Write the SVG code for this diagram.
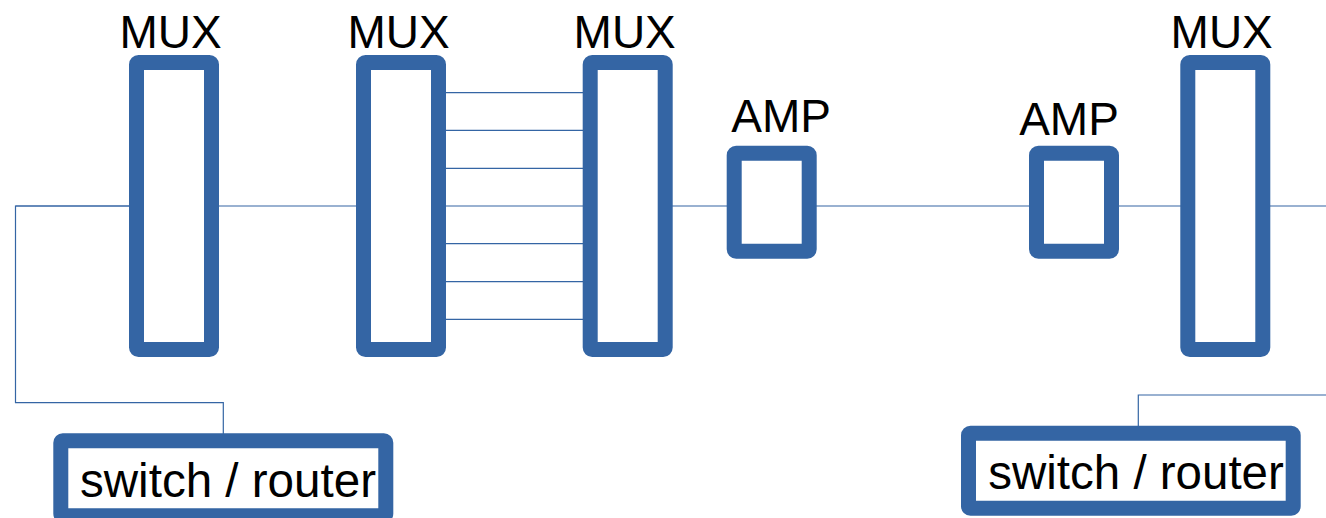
<svg xmlns="http://www.w3.org/2000/svg" width="1326" height="518" viewBox="0 0 1326 518">
<style>
.box{fill:#fff;stroke:#3465a4;stroke-width:15;stroke-linejoin:round}
.ln{fill:none;stroke:#3465a4;stroke-width:1.2}
.lbl{font-family:"Liberation Sans",Arial,sans-serif;font-size:46px;fill:#000}
.sw{font-family:"Liberation Sans",Arial,sans-serif;font-size:48px;fill:#000}
</style>
<rect width="1326" height="518" fill="#fff"/>
<g id="connectors">
<path class="ln" d="M15.5,206 H136 M212,206 H363 M665,206 H734 M809,206 H1036 M1112,206 H1187 M1263,206 H1326"/>
<path class="ln" d="M439,92.7 H590 M439,130.3 H590 M439,168.3 H590 M439,206 H590 M439,243.7 H590 M439,281.7 H590 M439,319.3 H590"/>
<path class="ln" d="M136,206 H15.5 V402.7 H223.3 V434"/>
<path class="ln" d="M1326,395 H1138.3 V426"/>
</g>
<g id="mux1"><rect class="box" x="136.5" y="62.5" width="75" height="287" rx="2"/><text class="lbl" x="170.5" y="48.3" text-anchor="middle">MUX</text></g>
<g id="mux2"><rect class="box" x="363.5" y="62.5" width="75" height="287" rx="2"/><text class="lbl" x="398.5" y="48.3" text-anchor="middle">MUX</text></g>
<g id="mux3"><rect class="box" x="590.2" y="62.5" width="75" height="287" rx="2"/><text class="lbl" x="624.7" y="48.3" text-anchor="middle">MUX</text></g>
<g id="amp1"><rect class="box" x="734.2" y="153.2" width="75" height="98" rx="2"/><text class="lbl" x="781.2" y="131.7" text-anchor="middle">AMP</text></g>
<g id="amp2"><rect class="box" x="1036.5" y="153.2" width="75" height="98" rx="2"/><text class="lbl" x="1069" y="135" text-anchor="middle">AMP</text></g>
<g id="mux4"><rect class="box" x="1187.8" y="62.5" width="75" height="287" rx="2"/><text class="lbl" x="1221.7" y="48.3" text-anchor="middle">MUX</text></g>
<g id="switch1"><rect class="box" x="60.8" y="440.8" width="325" height="75" rx="2"/><text class="sw" x="80" y="496.7" textLength="296" lengthAdjust="spacingAndGlyphs">switch / router</text></g>
<g id="switch2"><rect class="box" x="968.5" y="433.2" width="324.7" height="75" rx="2"/><text class="sw" x="988.3" y="489" textLength="295.5" lengthAdjust="spacingAndGlyphs">switch / router</text></g>
</svg>
